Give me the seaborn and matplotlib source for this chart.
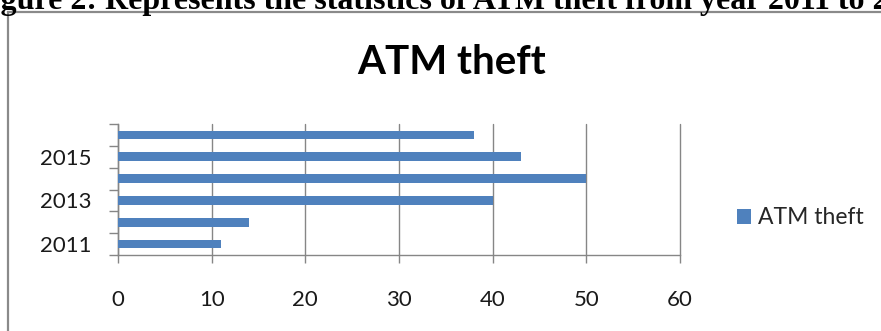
import numpy as np
import pandas as pd
import matplotlib
matplotlib.use("Agg")
import matplotlib.pyplot as plt
from matplotlib.patches import Rectangle
import seaborn as sns

# ATM theft counts per year
years = ["2011", "2012", "2013", "2014", "2015", "2016"]
thefts = [11, 14, 40, 50, 43, 38]
series_name = "ATM theft"
x_ticks = [0, 10, 20, 30, 40, 50, 60]
caption = "Figure 2: Represents the statistics of ATM theft from year 2011 to 2016"

df = pd.DataFrame({"year": years, "count": thefts})

sns.set_theme(style="white")
plt.rcParams["font.family"] = ["Lato", "DejaVu Sans"]

W, H = 881, 331
fig = plt.figure(figsize=(W / 100, H / 100), dpi=100)
fig.patch.set_facecolor("white")

def fx(px):
    return px / W

def fy(py):
    return 1 - py / H

left, right, top, bottom = 118, 680, 124, 255
ax = fig.add_axes([fx(left), fy(bottom), fx(right - left), (bottom - top) / H])

grid_col = "#868686"
bar_col = "#4F81BD"

# newest year at the top, oldest at the bottom
order = years[::-1]
sns.barplot(data=df, x="count", y="year", order=order, orient="h",
            color=bar_col, width=0.4, saturation=1, label=series_name,
            edgecolor="none", ax=ax, zorder=3)

handles, labels = ax.get_legend_handles_labels()
if ax.get_legend() is not None:
    ax.get_legend().remove()

ax.set_xlim(x_ticks[0], x_ticks[-1])
ax.set_ylim(len(years) - 0.5, -0.5)
ax.set_xlabel("")
ax.set_ylabel("")

# vertical gridlines
ax.set_xticks(x_ticks)
ax.set_xticklabels([str(t) for t in x_ticks])
ax.xaxis.grid(True, color=grid_col, linewidth=1.0, zorder=0)
ax.yaxis.grid(False)
for gl in ax.get_xgridlines():
    gl.set_clip_on(False)

# tick marks between categories, labels on every other year
ax.set_yticks(np.arange(-0.5, len(years), 1.0))
ax.set_yticklabels([])
label_years = [y for i, y in enumerate(years) if i % 2 == 0]
ax.set_yticks([order.index(y) for y in label_years], minor=True)
ax.set_yticklabels(label_years, minor=True)

ax.tick_params(axis="y", which="major", left=True, length=6.5, width=1.0,
               color=grid_col, direction="out")
ax.tick_params(axis="y", which="minor", left=True, length=0, pad=19,
               labelsize=16, labelcolor="#1a1a1a")
ax.tick_params(axis="x", which="major", bottom=True, length=6, width=1.0,
               color=grid_col, direction="out", pad=19, labelsize=16,
               labelcolor="#1a1a1a")

for side in ["top", "right"]:
    ax.spines[side].set_visible(False)
for side in ["left", "bottom"]:
    ax.spines[side].set_color(grid_col)
    ax.spines[side].set_linewidth(1.0)

# chart title
fig.text(fx(452), fy(62), "ATM theft", ha="center", va="center",
         fontsize=29, fontweight="bold", color="black")

# legend
fig.legend(handles, labels, loc="center left",
           bbox_to_anchor=(fx(737), fy(218)), frameon=False,
           handlelength=0.62, handleheight=0.62, handletextpad=0.3,
           borderpad=0, borderaxespad=0,
           prop={"family": ["Lato", "DejaVu Sans"], "size": 16.5})

# chart frame
fig.patches.append(Rectangle((fx(8), fy(H + 20)), fx(W), (H + 20 - 12) / H,
                             transform=fig.transFigure, fill=False,
                             edgecolor="#8a8a8a", linewidth=1.6,
                             clip_on=False))

# figure caption above the chart
fig.text(fx(-28), fy(9), caption, ha="left", va="baseline",
         fontsize=23, fontweight="bold", color="black",
         family=["Liberation Serif", "DejaVu Serif"])

fig.savefig("out.png", dpi=100, facecolor="white")
